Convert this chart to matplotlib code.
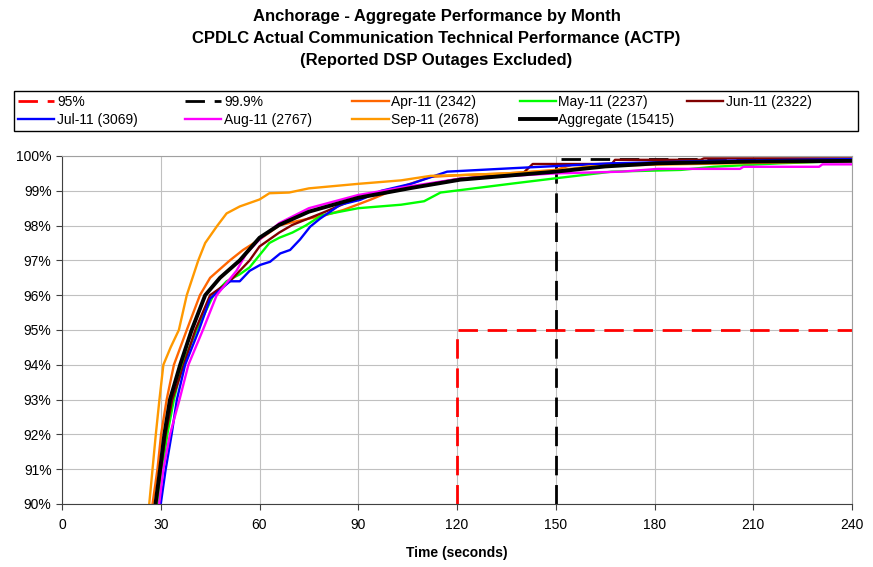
import matplotlib.pyplot as plt
from matplotlib.ticker import FuncFormatter

plt.rcParams['font.family'] = ['Liberation Sans', 'DejaVu Sans']

# ---- data (time in s, cumulative %)
sep_t = [26.5, 27.5, 28.5, 29.6, 30.8, 33, 35.5, 37.9, 41.4, 43.5, 47.2, 50, 54, 60, 63, 69, 75, 90, 103, 112, 121, 135, 150, 160, 180, 210, 240]
sep_v = [90, 91, 92, 93, 94, 94.5, 95, 96, 97, 97.5, 98, 98.35, 98.55, 98.75, 98.93, 98.95, 99.07, 99.2, 99.3, 99.43, 99.45, 99.5, 99.58, 99.7, 99.75, 99.8, 99.85]

apr_t = [27.5, 29, 30.1, 31.8, 34, 37.9, 41.9, 45, 51, 55, 60, 66, 70, 80, 85.5, 93.6, 102.7, 112, 121, 135, 150, 155, 180, 210, 240]
apr_v = [90, 91, 92, 93, 94, 95, 96, 96.5, 97, 97.3, 97.6, 98.0, 98.1, 98.3, 98.45, 98.74, 99.1, 99.4, 99.45, 99.5, 99.6, 99.75, 99.8, 99.85, 99.88]

may_t = [29.2, 30.5, 32, 34, 36.5, 40.9, 46, 50, 54, 57, 63, 66, 70, 74, 79, 90, 103, 110, 115, 121, 137, 150, 167, 188, 198, 218, 240]
may_v = [90, 91, 92, 93, 94, 95, 96, 96.4, 96.6, 96.8, 97.5, 97.65, 97.8, 98.0, 98.3, 98.5, 98.6, 98.7, 98.95, 99.02, 99.21, 99.36, 99.55, 99.6, 99.69, 99.79, 99.86]

jun_t = [28.5, 30, 31.5, 33.5, 37, 40.5, 45, 51, 57, 60, 66, 70, 80, 90, 106, 121, 140, 143, 167, 168, 194, 195, 240]
jun_v = [90, 91, 92, 93, 94, 95, 96, 96.4, 97.0, 97.4, 97.8, 98.02, 98.4, 98.8, 99.1, 99.35, 99.5, 99.77, 99.77, 99.89, 99.89, 99.93, 99.93]

jul_t = [30, 31.5, 33.3, 34.9, 37.4, 41.6, 45, 51, 54, 57, 60.2, 63.2, 66.3, 69.3, 72.3, 75.4, 78.4, 81.5, 84.5, 90.6, 97, 106, 117, 137, 167, 198, 240]
jul_v = [90, 91, 92, 93, 94, 95, 95.9, 96.4, 96.4, 96.7, 96.87, 96.96, 97.2, 97.3, 97.6, 97.97, 98.2, 98.4, 98.6, 98.74, 99.0, 99.2, 99.55, 99.65, 99.79, 99.86, 99.91]

aug_t = [29.5, 30.8, 32.8, 35.7, 38.4, 42.8, 47, 53, 56, 60, 66, 75, 90, 105, 121, 150, 170, 181, 206, 207, 230, 231, 240]
aug_v = [90, 91, 92, 93, 94, 95, 96, 96.7, 97.2, 97.6, 98.07, 98.5, 98.88, 99.12, 99.35, 99.5, 99.55, 99.63, 99.63, 99.69, 99.69, 99.76, 99.76]

agg_t = [28.4, 29.8, 31.1, 32.8, 35.9, 39.4, 43.5, 48, 54, 60, 66, 75, 90, 106, 121, 150, 165, 181, 210, 240]
agg_v = [90, 91, 92, 93, 94, 95, 96, 96.5, 97, 97.65, 98.02, 98.4, 98.8, 99.08, 99.32, 99.55, 99.7, 99.79, 99.84, 99.86]

req95_t = [120, 120, 240]
req95_v = [90, 95, 95]
req999_t = [150, 150, 240]
req999_v = [90, 99.9, 99.9]

series = [
    ('Apr-11 (2342)', apr_t, apr_v, '#FF6600'),
    ('May-11 (2237)', may_t, may_v, '#00FF00'),
    ('Jun-11 (2322)', jun_t, jun_v, '#800000'),
    ('Jul-11 (3069)', jul_t, jul_v, '#0000FF'),
    ('Aug-11 (2767)', aug_t, aug_v, '#FF00FF'),
    ('Sep-11 (2678)', sep_t, sep_v, '#FF9900'),
]

fig = plt.figure(figsize=(8.73, 5.67), dpi=100)
ax = fig.add_axes([62 / 873, 1 - 504 / 567, 790 / 873, 348 / 567])

handles = {}
l95, = ax.plot(req95_t, req95_v, color='#FF0000', lw=2, dashes=(7, 3.5), label='95%')
l999, = ax.plot(req999_t, req999_v, color='black', lw=2, dashes=(7, 3.5), label='99.9%')
handles['95%'] = l95
handles['99.9%'] = l999

for name, t, v, c in series:
    ln, = ax.plot(t, v, color=c, lw=1.7, label=name)
    handles[name] = ln

lagg, = ax.plot(agg_t, agg_v, color='black', lw=2.8, label='Aggregate (15415)')
handles['Aggregate (15415)'] = lagg

ax.set_xlim(0, 240)
ax.set_ylim(90, 100)
ax.set_xticks(range(0, 241, 30))
ax.set_yticks(range(90, 101, 1))
ax.yaxis.set_major_formatter(FuncFormatter(lambda y, p: f'{int(y)}%'))
ax.grid(True, color='#C0C0C0', lw=0.8)
ax.set_axisbelow(True)
ax.tick_params(labelsize=10, length=4, color='#404040')
ax.tick_params(axis='x', pad=6)
for s in ['top', 'right']:
    ax.spines[s].set_color('#A0A0A0')
for s in ['left', 'bottom']:
    ax.spines[s].set_color('#404040')
ax.set_xlabel('Time (seconds)', fontsize=10, fontweight='bold', labelpad=10)

fig.text(0.5, 1 - 16 / 567, 'Anchorage - Aggregate Performance by Month', ha='center', va='center', fontsize=12, fontweight='bold')
fig.text(0.5, 1 - 38 / 567, 'CPDLC Actual Communication Technical Performance (ACTP)', ha='center', va='center', fontsize=12, fontweight='bold')
fig.text(0.5, 1 - 60 / 567, '(Reported DSP Outages Excluded)', ha='center', va='center', fontsize=12, fontweight='bold')

# legend order so rows read: 95, 99.9, Apr, May, Jun / Jul, Aug, Sep, Aggregate
order = ['95%', 'Jul-11 (3069)', '99.9%', 'Aug-11 (2767)', 'Apr-11 (2342)', 'Sep-11 (2678)',
         'May-11 (2237)', 'Aggregate (15415)', 'Jun-11 (2322)']
leg = fig.legend([handles[k] for k in order], order, ncol=5, mode='expand', loc='lower left',
                 bbox_to_anchor=(14 / 873, 1 - 131 / 567, 844 / 873, 40 / 567), borderaxespad=0,
                 fontsize=10, handlelength=2.6, handletextpad=0.2, fancybox=False, framealpha=1,
                 edgecolor='black', labelspacing=0.25, borderpad=0.3)
leg.get_frame().set_linewidth(1.0)
# equal-width columns like the Excel legend
hb = leg._legend_handle_box
hb.mode = 'equal'
hb.set_width(844 - 2 * 0.3 * 10 * 100 / 72)

fig.savefig('out.png', dpi=100)
